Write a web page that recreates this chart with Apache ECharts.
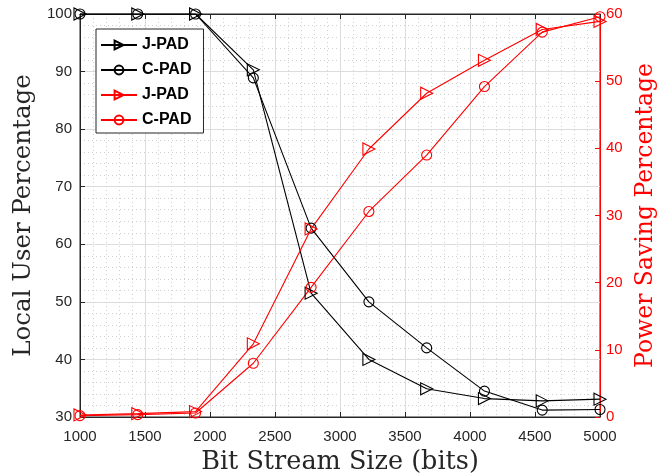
<!DOCTYPE html>
<html>
<head>
<meta charset="utf-8">
<script src="https://cdn.jsdelivr.net/npm/echarts@6/dist/echarts.min.js"></script>
<style>html,body{margin:0;padding:0;background:#fff}#c{width:659px;height:475px}</style>
</head>
<body>
<div id="c"></div>
<script>
const bitSizes = [1000, 1444.4, 1888.9, 2333.3, 2777.8, 3222.2, 3666.7, 4111.1, 4555.6, 5000];
const localJPAD = [100, 100, 100, 90.3, 51.5, 40.0, 34.9, 33.2, 32.8, 33.1];
const localCPAD = [100, 100, 100, 88.9, 62.8, 50.0, 42.0, 34.5, 31.2, 31.3];
const powerJPAD = [0.3, 0.5, 0.8, 10.9, 28.0, 39.9, 48.2, 53.1, 57.7, 58.9];
const powerCPAD = [0.2, 0.35, 0.6, 8.0, 19.3, 30.6, 39.0, 49.2, 57.3, 59.6];
const seriesNames = ['J-PAD', 'C-PAD', 'J-PAD ', 'C-PAD '];

const pairs = (ys) => bitSizes.map((x, i) => [x, ys[i]]);
const axisText = '#262626';
const tickFont = {fontFamily: 'Liberation Sans, Arial, sans-serif', fontSize: 15, color: axisText, formatter: (v) => String(v)};
const nameFont = 'DejaVu Serif, serif';

function mk(name, ys, color, symbol, yIdx) {
  return {
    name: name, type: 'line', yAxisIndex: yIdx, data: pairs(ys),
    symbol: symbol, symbolSize: symbol === 'triangle' ? 12 : 10,
    symbolRotate: symbol === 'triangle' ? -90 : 0,
    lineStyle: {color: color, width: 1.1},
    itemStyle: {color: 'rgba(0,0,0,0)', borderColor: color, borderWidth: 1.1},
    emphasis: {disabled: true}, z: 3
  };
}

const chart = echarts.init(document.getElementById('c'));
chart.setOption({
  animation: false,
  backgroundColor: '#fff',
  grid: {left: 80, right: 59, top: 14, bottom: 58, show: true, borderColor: axisText, borderWidth: 1, outerBoundsMode: 'none', containLabel: false},
  legend: {
    orient: 'vertical', left: 96, top: 29, selectedMode: false,
    data: seriesNames,
    formatter: (n) => n.trim(),
    borderColor: axisText, borderWidth: 1, backgroundColor: '#fff',
    padding: [8, 12, 5, 4], itemWidth: 36, itemHeight: 11, itemGap: 9,
    textStyle: {fontFamily: 'Liberation Sans, Arial, sans-serif', fontSize: 16, fontWeight: 'bold', color: '#000', lineHeight: 15}
  },
  xAxis: [{
    type: 'value', min: 1000, max: 5000, interval: 500,
    name: 'Bit Stream Size (bits)', nameLocation: 'middle', nameGap: 32,
    nameTextStyle: {fontFamily: nameFont, fontSize: 25.5, color: axisText},
    axisLine: {lineStyle: {color: axisText}},
    axisTick: {inside: true, length: 5, lineStyle: {color: axisText}},
    axisLabel: Object.assign({margin: 12}, tickFont),
    splitLine: {show: true, lineStyle: {color: '#dcdcdc', width: 1}},
    minorTick: {show: false, splitNumber: 5},
    minorSplitLine: {show: true, lineStyle: {color: '#d0d0d0', type: [1, 3], width: 1}}
  }, {
    type: 'value', position: 'top', min: 1000, max: 5000, interval: 500,
    axisLine: {show: true, lineStyle: {color: axisText}},
    axisTick: {inside: true, length: 5, lineStyle: {color: axisText}},
    axisLabel: {show: false}, splitLine: {show: false}
  }],
  yAxis: [{
    type: 'value', min: 30, max: 100, interval: 10,
    name: 'Local User Percentage', nameLocation: 'middle', nameGap: 43, nameRotate: 90,
    nameTextStyle: {fontFamily: nameFont, fontSize: 24.5, color: axisText},
    axisLine: {show: true, lineStyle: {color: axisText}},
    axisTick: {show: true, inside: true, length: 5, lineStyle: {color: axisText}},
    axisLabel: Object.assign({margin: 8}, tickFont),
    splitLine: {show: true, lineStyle: {color: '#dcdcdc', width: 1}},
    minorTick: {show: false, splitNumber: 5},
    minorSplitLine: {show: true, lineStyle: {color: '#d0d0d0', type: [1, 3], width: 1}}
  }, {
    type: 'value', min: 0, max: 60, interval: 10, position: 'right',
    name: 'Power Saving Percentage', nameLocation: 'middle', nameGap: 32, nameRotate: 90,
    nameTextStyle: {fontFamily: nameFont, fontSize: 23.5, color: '#ff0000'},
    axisLine: {show: true, lineStyle: {color: '#ff0000'}},
    axisTick: {show: true, inside: true, length: 5, lineStyle: {color: '#ff0000'}},
    axisLabel: Object.assign({}, tickFont, {margin: 6, color: '#ff0000'}),
    splitLine: {show: false}
  }],
  series: [
    mk(seriesNames[0], localJPAD, '#000000', 'triangle', 0),
    mk(seriesNames[1], localCPAD, '#000000', 'circle', 0),
    mk(seriesNames[2], powerJPAD, '#ff0000', 'triangle', 1),
    mk(seriesNames[3], powerCPAD, '#ff0000', 'circle', 1)
  ]
});
</script>
</body>
</html>
